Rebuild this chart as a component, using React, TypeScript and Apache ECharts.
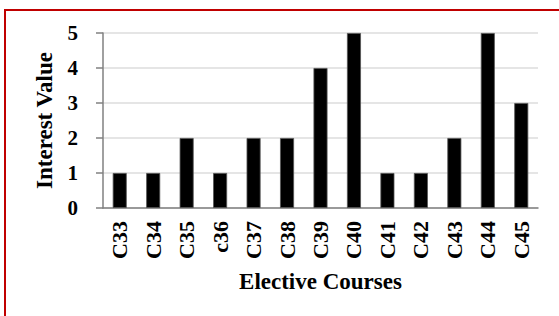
import React, { useEffect, useRef } from "react";
import * as echarts from "echarts";

const categories = ["C33", "C34", "C35", "c36", "C37", "C38", "C39", "C40", "C41", "C42", "C43", "C44", "C45"];
const interestValues = [1, 1, 2, 1, 2, 2, 4, 5, 1, 1, 2, 5, 3];
const yTicks = [0, 1, 2, 3, 4, 5];

const FONT = "'Liberation Serif', 'Times New Roman', serif";

export default function App() {
  const ref = useRef<HTMLDivElement>(null);
  useEffect(() => {
    if (!ref.current) return;
    const chart = echarts.init(ref.current, null, { renderer: "svg" });
    chart.setOption({
      animation: false,
      backgroundColor: "#ffffff",
      graphic: [
        {
          type: "rect",
          shape: { x: 5, y: 10, width: 620, height: 400 },
          style: { fill: "none", stroke: "#c00000", lineWidth: 2 },
          silent: true,
        },
      ],
      grid: { left: 103, top: 33, width: 435, height: 175, containLabel: false },
      xAxis: {
        type: "category",
        data: categories,
        name: "Elective Courses",
        nameLocation: "middle",
        nameGap: 62,
        nameTextStyle: { fontFamily: FONT, fontWeight: "bold", fontSize: 23, color: "#000" },
        axisLine: { lineStyle: { color: "#808080", width: 1.5 } },
        axisTick: { show: false },
        axisLabel: {
          rotate: 90,
          margin: 13,
          fontFamily: FONT,
          fontWeight: "bold",
          fontSize: 22,
          color: "#000",
          interval: 0,
        },
      },
      yAxis: {
        type: "value",
        min: yTicks[0],
        max: yTicks[yTicks.length - 1],
        interval: 1,
        name: "Interest Value",
        nameLocation: "middle",
        nameGap: 47,
        nameTextStyle: { fontFamily: FONT, fontWeight: "bold", fontSize: 23, color: "#000" },
        axisLine: { show: true, lineStyle: { color: "#808080", width: 1.5 } },
        axisTick: { show: true, length: 7, lineStyle: { color: "#808080", width: 1.5 } },
        axisLabel: {
          margin: 25,
          fontFamily: FONT,
          fontWeight: "bold",
          fontSize: 21,
          color: "#000",
        },
        splitLine: { lineStyle: { color: "#dcdcdc", width: 1.5 } },
      },
      series: [
        {
          type: "bar",
          data: interestValues,
          barWidth: 14,
          itemStyle: { color: "#000000", borderColor: "#555555", borderWidth: 0.8 },
        },
      ],
    });
    return () => chart.dispose();
  }, []);
  return (
    <div
      ref={ref}
      style={{ position: "fixed", left: 0, top: 0, width: 559, height: 316 }}
    />
  );
}
